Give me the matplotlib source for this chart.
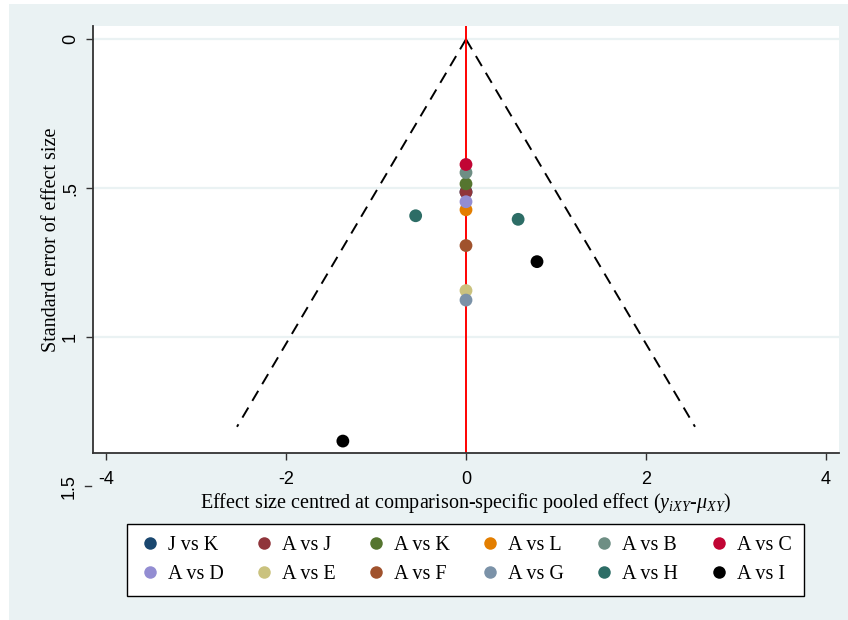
import matplotlib
matplotlib.use('Agg')
import matplotlib.pyplot as plt
from matplotlib.lines import Line2D
from matplotlib.patches import Rectangle
from matplotlib.transforms import blended_transform_factory

# Comparison groups and marker colours
comparisons = ['J vs K', 'A vs J', 'A vs K', 'A vs L', 'A vs B', 'A vs C',
               'A vs D', 'A vs E', 'A vs F', 'A vs G', 'A vs H', 'A vs I']
colors = ['#1a476f', '#90353b', '#55752f', '#e37e00', '#6e8e84', '#c10534',
          '#938dd2', '#cac27e', '#a0522d', '#7b92a8', '#2d6d66', '#000000']

# Study points: comparison, centred effect size, standard error
point_group = ['J vs K', 'A vs J', 'A vs K', 'A vs L', 'A vs B', 'A vs C',
               'A vs D', 'A vs E', 'A vs F', 'A vs G',
               'A vs H', 'A vs H', 'A vs I', 'A vs I']
point_x = [0.0, 0.0, 0.0, 0.0, 0.0, 0.0,
           0.0, 0.0, 0.0, 0.0,
           -0.56, 0.58, 0.79, -1.37]
point_se = [0.512, 0.513, 0.485, 0.572, 0.447, 0.420,
            0.545, 0.843, 0.692, 0.875,
            0.592, 0.604, 0.746, 1.348]

# Pseudo 95% confidence funnel
funnel_se = [0.0, 1.30]
z_crit = 1.96

yticks = [0, 0.5, 1]
ytick_labels = ['0', '.5', '1']
xticks = [-4, -2, 0, 2, 4]

bg = '#eaf2f3'
serif = 'Liberation Serif'
sans = 'Liberation Sans'
plt.rcParams['mathtext.fontset'] = 'custom'
plt.rcParams['mathtext.it'] = 'Liberation Serif:italic'
plt.rcParams['mathtext.rm'] = 'Liberation Serif'

fig = plt.figure(figsize=(8.48, 6.2), dpi=100, facecolor='white')
fig.patches.append(Rectangle((9 / 848, 0), 1, 1 - 4 / 620, transform=fig.transFigure,
                             facecolor=bg, edgecolor='none', zorder=-10))

ax = fig.add_axes([93 / 848, 1 - 453 / 620, 746 / 848, 427 / 620])
ax.set_facecolor('white')
ax.set_xlim(-4.15, 4.15)
ax.set_ylim(1.388, -0.0446)

for y in yticks:
    ax.axhline(y, color=bg, lw=1.6, zorder=0)

# funnel edges
ax.plot([0, -z_crit * funnel_se[1]], funnel_se, color='black', lw=1.4,
        dashes=(6, 4), zorder=1)
ax.plot([0, z_crit * funnel_se[1]], funnel_se, color='black', lw=1.4,
        dashes=(6, 4), zorder=1)
ax.axvline(0, color='red', lw=1.4, zorder=2)

for name, col in zip(comparisons, colors):
    xs = [x for g, x in zip(point_group, point_x) if g == name]
    ys = [s for g, s in zip(point_group, point_se) if g == name]
    ax.scatter(xs, ys, s=85, color=col, edgecolors='none', zorder=3)

for side in ['top', 'right']:
    ax.spines[side].set_visible(False)
for side in ['left', 'bottom']:
    ax.spines[side].set_color('#333333')
    ax.spines[side].set_linewidth(1.3)

ax.set_xticks(xticks)
ax.set_xticklabels([str(t) for t in xticks], fontname=sans, fontsize=13)
ax.set_yticks(yticks)
ax.set_yticklabels(ytick_labels, fontname=sans, fontsize=13, rotation=90,
                   va='center')
ax.tick_params(direction='out', length=5, width=1, color='#333333')
ax.tick_params(axis='x', pad=8)
ax.tick_params(axis='y', pad=5)

# 1.5 tick sits below the plot region
trans = blended_transform_factory(ax.transAxes, ax.transData)
ax.plot([-0.011, -0.003], [1.5, 1.5], color='#333333', lw=1, transform=trans,
        clip_on=False)
ax.text(-0.020, 1.5, '1.5', transform=trans, rotation=90, ha='right',
        va='center', fontname=sans, fontsize=13, clip_on=False)

ax.set_ylabel('Standard error of effect size', fontname=serif, fontsize=14.5,
              labelpad=1)
ax.set_xlabel(r'Effect size centred at comparison-specific pooled effect '
              r'($y_{iXY}$-$\mu_{XY}$)', fontname=serif, fontsize=14.5,
              labelpad=2)

# legend fills by column, so interleave to read across rows
handles = [Line2D([], [], marker='o', linestyle='none', markersize=9,
                  markerfacecolor=c, markeredgecolor='none') for c in colors]
order = [i + r * 6 for i in range(6) for r in range(2)]
leg = fig.legend([handles[i] for i in order], [comparisons[i] for i in order],
                 ncol=6, loc='center',
                 bbox_to_anchor=(465.5 / 848, 1 - 560 / 620),
                 prop={'family': serif, 'size': 14.5}, frameon=True,
                 fancybox=False, edgecolor='black', framealpha=1,
                 handletextpad=0.4, columnspacing=1.5, handlelength=1.0,
                 borderpad=0.6, labelspacing=0.45)
leg.get_frame().set_linewidth(1.0)

fig.savefig('out.png', dpi=100, facecolor=fig.get_facecolor())
